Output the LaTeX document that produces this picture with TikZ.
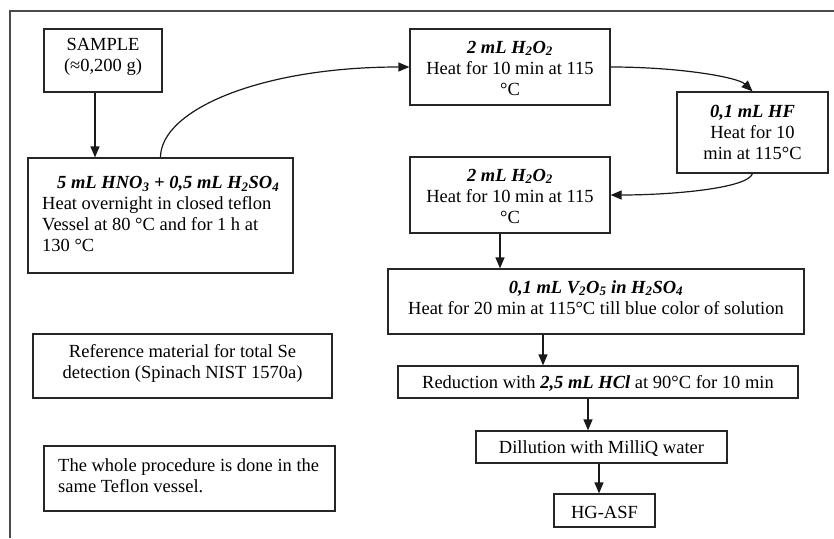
\documentclass[tikz,border=0pt]{standalone}
\usepackage{fontspec}
\setmainfont{Liberation Serif}
\usetikzlibrary{arrows.meta}
\newcommand\bitx[1]{\textbf{\textit{#1}}}
\newcommand\sbx[1]{\textsubscript{#1}}
\begin{document}
\begin{tikzpicture}[x=1pt,y=-1pt,
  box/.style={draw=black!85, line width=1.2pt, rectangle, inner sep=0},
  txt/.style={inner sep=0, align=center, font=\fontsize{18.5}{21}\selectfont},
  arr/.style={line width=1.2pt, draw=black!90, -{Triangle[length=11pt,width=9pt]}}]
\useasboundingbox (0,0) rectangle (834,538);
\coordinate (fA) at (10,538); \coordinate (fB) at (10,11); \coordinate (fC) at (834,11);
\draw[line width=1.2pt, black!70] (fA) -- (fB) -- (fC);

\node[box, minimum width=118, minimum height=63] (b1) at (103,60.5) {};
\node[box, minimum width=265, minimum height=115] (b2) at (160.5,215.5) {};
\node[box, minimum width=200, minimum height=76] (b3) at (510,67) {};
\node[box, minimum width=151, minimum height=81] (b4) at (752.5,132.5) {};
\node[box, minimum width=200, minimum height=76] (b5) at (510,195) {};
\node[box, minimum width=416, minimum height=65] (b6) at (596,301.5) {};
\node[box, minimum width=400, minimum height=32] (b7) at (598,382) {};
\node[box, minimum width=251, minimum height=32] (b8) at (601.5,447) {};
\node[box, minimum width=101, minimum height=33] (b9) at (604.5,510.5) {};
\node[box, minimum width=299, minimum height=64] (bR) at (182.5,366) {};
\node[box, minimum width=291, minimum height=65] (bW) at (189.5,478.5) {};

\node[txt] (t1) at (103,57) {SAMPLE\\(≈0,200 g)};
\node[txt, align=left, anchor=west] (t2) at (42,214) {\hspace*{15pt}\bitx{5 mL HNO\sbx{3} + 0,5 mL H\sbx{2}SO\sbx{4}}\\Heat overnight in closed teflon\\Vessel at 80 °C and for 1 h at\\130 °C};
\node[txt] (t3) at (510,68) {\bitx{2 mL H\sbx{2}O\sbx{2}}\\Heat for 10 min at 115\\°C};
\node[txt] (t4) at (752.5,132) {\bitx{0,1 mL HF}\\Heat for 10\\min at 115°C};
\node[txt] (t5) at (510,196) {\bitx{2 mL H\sbx{2}O\sbx{2}}\\Heat for 10 min at 115\\°C};
\node[txt] (t6) at (596,297.5) {\bitx{0,1 mL V\sbx{2}O\sbx{5} in H\sbx{2}SO\sbx{4}}\\Heat for 20 min at 115°C till blue color of solution};
\node[txt] (t7) at (598,383) {Reduction with \bitx{2,5 mL HCl} at 90°C for 10 min};
\node[txt] (t8) at (601.5,449) {Dillution with MilliQ water};
\node[txt] (t9) at (604.5,512) {HG-ASF};
\node[txt] (tR) at (182.5,363) {Reference material for total Se\\detection (Spinach NIST 1570a)};
\node[txt, align=left, anchor=west] (tW) at (58,476) {The whole procedure is done in the\\same Teflon vessel.};

\draw[arr] ([xshift=-8]b1.south) -- ([xshift=-8]b1.south |- b2.north);
\draw[arr] (b2.north) .. controls ([yshift=47]b2.north) and ([xshift=-150]b3.west) .. (b3.west);
\draw[arr] (b3.east) .. controls ([xshift=70]b3.east) and ([xshift=-14.5,yshift=14]b4.north) .. (b4.north);
\draw[arr] (b4.south) .. controls ([xshift=-5,yshift=-15]b4.south) and ([xshift=60]b5.east) .. (b5.east);
\draw[arr] ([xshift=-10]b5.south) -- ([xshift=-10]b5.south |- b6.north);
\draw[arr] ([xshift=-53]b6.south) -- ([xshift=-53]b6.south |- b7.north);
\draw[arr] ([xshift=-10]b7.south) -- ([xshift=-10]b7.south |- b8.north);
\draw[arr] ([xshift=-2.5]b8.south) -- ([xshift=-2.5]b8.south |- b9.north);
\end{tikzpicture}
\end{document}
